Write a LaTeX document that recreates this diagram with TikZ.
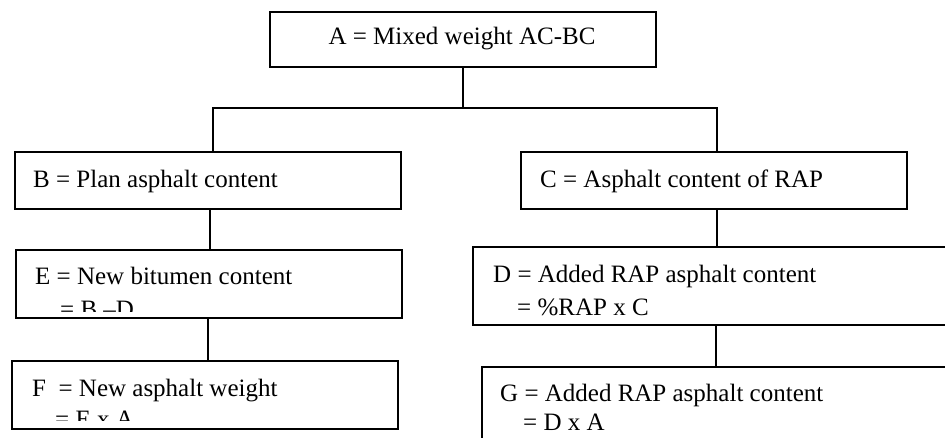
\documentclass[tikz,border=0pt]{standalone}
\usepackage{fontspec}
\setmainfont{Liberation Serif}
\begin{document}
\begin{tikzpicture}[x=1pt,y=-1pt,
  box/.style={draw=black, line width=1.4pt, fill=white, inner sep=0pt},
  txt/.style={anchor=base west, inner sep=0pt, font=\fontsize{25}{30}\selectfont},
  link/.style={draw=black, line width=1.4pt}]
\clip (0,0) rectangle (945,437);
\fill[white] (0,0) rectangle (945,437);
% boxes
\node[box, minimum width=386pt, minimum height=55pt] (A) at (463,39.5) {};
\node[box, minimum width=386pt, minimum height=57pt] (B) at (208,180.5) {};
\node[box, minimum width=386pt, minimum height=57pt] (C) at (714,180.5) {};
\node[box, minimum width=386pt, minimum height=68pt] (E) at (209,284) {};
\node[box, minimum width=386pt, minimum height=68pt] (F) at (205,395) {};
\node[box, minimum width=500pt, minimum height=78pt] (D) at (723,286) {};
\node[box, minimum width=500pt, minimum height=90pt] (G) at (732,412) {};
% texts
\node[txt, anchor=base] (tA) at (462,44) {A = Mixed weight AC-BC};
\node[txt] (tB) at (33,187) {B = Plan asphalt content};
\node[txt] (tC) at (540,187) {C = Asphalt content of RAP};
\node[txt] (tE1) at (35,284) {E = New bitumen content};
\node[txt] (tF1) at (32,396) {F\ \ = New asphalt weight};
\node[txt] (tD1) at (493,282) {D = Added RAP asphalt content};
\node[txt] (tD2) at (517,315) {= \%RAP x C};
\node[txt] (tG1) at (500,401) {G = Added RAP asphalt content};
\node[txt] (tG2) at (523,430) {= D x A};
\begin{scope}
  \clip (0,250) rectangle (420,311);
  \node[txt] (tE2) at (60,317) {= B –D};
\end{scope}
\begin{scope}
  \clip (0,361) rectangle (420,420);
  \node[txt] (tF2) at (55,427) {= E x A};
\end{scope}
% connectors
\coordinate (j) at (A.south |- 0,108);
\coordinate (barL) at (213,108);
\coordinate (barR) at (717,108);
\draw[link] (A.south) -- (j);
\draw[link] (barL |- B.north) -- (barL) -- (barR) -- (barR |- C.north);
\draw[link] ([xshift=2pt]B.south) -- ([xshift=2pt]B.south |- E.north);
\draw[link] ([xshift=-1pt]E.south) -- ([xshift=-1pt]E.south |- F.north);
\draw[link] ([xshift=3pt]C.south) -- ([xshift=3pt]C.south |- D.north);
\draw[link] ([xshift=-7pt]D.south) -- ([xshift=-7pt]D.south |- G.north);
\end{tikzpicture}
\end{document}
